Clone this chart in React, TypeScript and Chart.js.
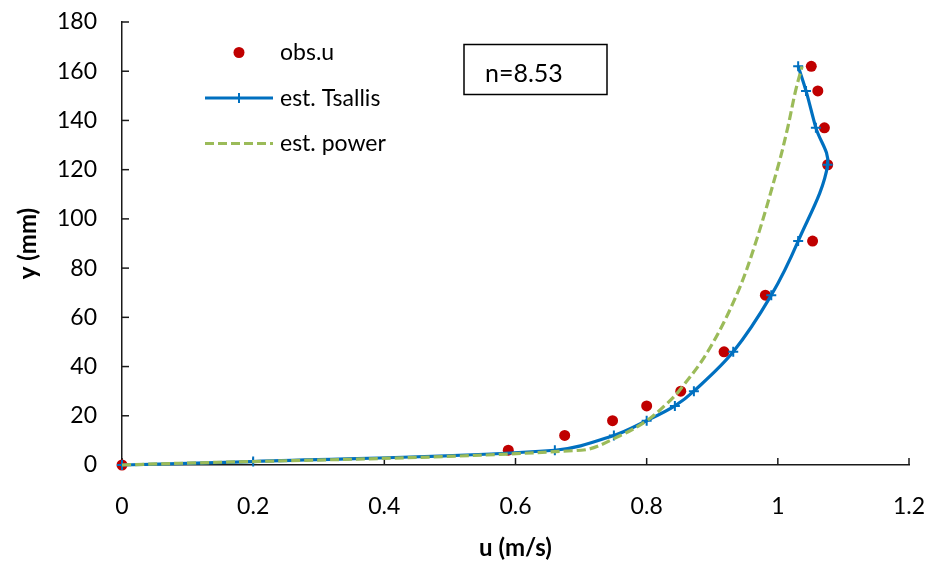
import React, { useEffect, useRef } from 'react';
import { Chart, registerables } from 'chart.js';

Chart.register(...registerables);

// Observed velocity profile
const obsY = [0, 6, 12, 18, 24, 30, 46, 69, 91, 122, 137, 152, 162];
const obsU = [0, 0.589, 0.675, 0.748, 0.8, 0.852, 0.918, 0.981, 1.053, 1.076, 1.071, 1.061, 1.051];

// Tsallis estimate
const tsallisY = [0, 1.4, 6, 12, 18, 24, 30, 46, 69, 91, 122, 137, 152, 162];
const tsallisU = [0, 0.2, 0.66, 0.75, 0.8, 0.843, 0.872, 0.932, 0.99, 1.031, 1.076, 1.058, 1.043, 1.031];

// Power-law estimate
const powerY = [0, 6, 12, 18, 24, 30, 46, 69, 91, 122, 137, 152, 162];
const powerU = [0, 0.7, 0.76, 0.8, 0.827, 0.849, 0.893, 0.937, 0.967, 1.001, 1.015, 1.027, 1.037];

const xTickVals = [0, 0.2, 0.4, 0.6, 0.8, 1, 1.2];
const xTickLabels = ['0', '0.2', '0.4', '0.6', '0.8', '1', '1.2'];
const yTickVals = [0, 20, 40, 60, 80, 100, 120, 140, 160, 180];
const yTickLabels = ['0', '20', '40', '60', '80', '100', '120', '140', '160', '180'];

const legendLabels = ['obs.u', 'est. Tsallis', 'est. power'];
const annotationText = 'n=8.53';
const xTitle = 'u (m/s)';
const yTitle = 'y (mm)';

const RED = '#C00000';
const BLUE = '#0070C0';
const GREEN = '#9BBB59';
const AXIS = '#1a1a1a';
const FONT = 'Lato, "Open Sans", sans-serif';
const DASH = [9, 4];

const toPts = (xs: number[], ys: number[]) => xs.map((v, i) => ({ x: v, y: ys[i] }));

const decorPlugin = {
  id: 'decor',
  beforeDatasetsDraw(chart: any) {
    const { ctx, chartArea, scales } = chart;
    const { left, bottom } = chartArea;
    ctx.save();
    ctx.strokeStyle = AXIS;
    ctx.lineWidth = 1.5;
    xTickVals.forEach((v) => {
      const px = scales.x.getPixelForValue(v);
      ctx.beginPath();
      ctx.moveTo(px, bottom);
      ctx.lineTo(px, bottom - 7);
      ctx.stroke();
    });
    yTickVals.forEach((v) => {
      const py = scales.y.getPixelForValue(v);
      ctx.beginPath();
      ctx.moveTo(left, py);
      ctx.lineTo(left + 7, py);
      ctx.stroke();
    });
    ctx.restore();
  },
  afterDraw(chart: any) {
    const { ctx, chartArea } = chart;
    const L = chartArea.left;
    const T = chartArea.top;
    ctx.save();
    ctx.font = `23px ${FONT}`;
    ctx.fillStyle = '#000';
    ctx.textBaseline = 'alphabetic';
    ctx.textAlign = 'left';
    const lx0 = L + 83;
    const lx1 = L + 151;
    const lmid = (lx0 + lx1) / 2;
    const tx = L + 158;
    // obs.u
    const y1 = T + 30.5;
    ctx.fillStyle = RED;
    ctx.beginPath();
    ctx.arc(lmid, y1, 5.5, 0, Math.PI * 2);
    ctx.fill();
    ctx.fillStyle = '#000';
    ctx.fillText(legendLabels[0], tx, y1 + 7.5);
    // Tsallis
    const y2 = T + 76;
    ctx.strokeStyle = BLUE;
    ctx.lineWidth = 3;
    ctx.beginPath();
    ctx.moveTo(lx0, y2);
    ctx.lineTo(lx1, y2);
    ctx.stroke();
    ctx.lineWidth = 2;
    ctx.beginPath();
    ctx.moveTo(lmid, y2 - 5);
    ctx.lineTo(lmid, y2 + 5);
    ctx.stroke();
    ctx.fillText(legendLabels[1], tx, y2 + 7.5);
    // power
    const y3 = T + 121.5;
    ctx.strokeStyle = GREEN;
    ctx.lineWidth = 3.2;
    ctx.setLineDash(DASH);
    ctx.beginPath();
    ctx.moveTo(lx0, y3);
    ctx.lineTo(lx1, y3);
    ctx.stroke();
    ctx.setLineDash([]);
    ctx.fillText(legendLabels[2], tx, y3 + 7.5);
    // annotation box
    const bx = L + 342;
    const by = T + 22.5;
    ctx.strokeStyle = '#000';
    ctx.lineWidth = 1.5;
    ctx.strokeRect(bx, by, 143, 50);
    ctx.font = `25px ${FONT}`;
    ctx.fillText(annotationText, bx + 21, by + 37.5);
    ctx.restore();
  },
};

export default function App() {
  const ref = useRef<HTMLCanvasElement>(null);
  useEffect(() => {
    document.body.style.margin = '0';
    const canvas = ref.current;
    if (!canvas) return;
    const chart = new Chart(canvas, {
      type: 'scatter',
      data: {
        datasets: [
          {
            label: legendLabels[0],
            data: toPts(obsU, obsY),
            showLine: false,
            pointStyle: 'circle',
            pointRadius: 5.5,
            pointBackgroundColor: RED,
            pointBorderColor: RED,
            pointBorderWidth: 0,
            order: 3,
            clip: false,
          },
          {
            label: legendLabels[1],
            data: toPts(tsallisU, tsallisY),
            showLine: true,
            borderColor: BLUE,
            borderWidth: 3.2,
            tension: 0.35,
            pointStyle: 'cross',
            pointRadius: 5,
            pointBorderColor: BLUE,
            pointBorderWidth: 2,
            pointBackgroundColor: BLUE,
            order: 2,
            clip: false,
          },
          {
            label: legendLabels[2],
            data: toPts(powerU, powerY),
            showLine: true,
            borderColor: GREEN,
            borderWidth: 3.2,
            borderDash: DASH,
            tension: 0.35,
            pointRadius: 0,
            order: 1,
            clip: false,
          },
        ],
      },
      options: {
        responsive: false,
        animation: false,
        devicePixelRatio: 1,
        layout: { padding: { left: 0, right: 21, top: 22, bottom: 0 } },
        plugins: {
          legend: { display: false },
          tooltip: { enabled: false },
        },
        scales: {
          x: {
            type: 'linear',
            min: 0,
            max: 1.2,
            afterBuildTicks: (s: any) => {
              s.ticks = xTickVals.map((v) => ({ value: v }));
            },
            afterFit: (s: any) => {
              s.height = 96;
              s.paddingLeft = 0;
              s.paddingRight = 0;
            },
            grid: { display: true, drawOnChartArea: false, drawTicks: false },
            border: { display: true, color: AXIS, width: 1.5 },
            ticks: {
              padding: 28,
              color: '#000',
              font: { family: FONT, size: 23 },
              maxRotation: 0,
              callback: (_v: any, i: number) => xTickLabels[i],
            },
            title: {
              display: true,
              text: xTitle,
              color: '#000',
              font: { family: FONT, size: 24, weight: 'bold', lineHeight: 1 },
              padding: { top: 0, bottom: 1 },
            },
          },
          y: {
            type: 'linear',
            min: 0,
            max: 180,
            afterBuildTicks: (s: any) => {
              s.ticks = yTickVals.map((v) => ({ value: v }));
            },
            afterFit: (s: any) => {
              s.width = 122;
              s.paddingTop = 0;
              s.paddingBottom = 0;
            },
            grid: { display: true, drawOnChartArea: false, drawTicks: false },
            border: { display: true, color: AXIS, width: 1.5 },
            ticks: {
              padding: 25,
              color: '#000',
              font: { family: FONT, size: 23 },
              callback: (_v: any, i: number) => yTickLabels[i],
            },
            title: {
              display: true,
              text: yTitle,
              color: '#000',
              font: { family: FONT, size: 24, weight: 'bold', lineHeight: 1 },
              padding: { top: 16, bottom: 0 },
            },
          },
        },
      },
      plugins: [decorPlugin],
    } as any);
    return () => chart.destroy();
  }, []);
  return (
    <div style={{ width: 930, height: 561, background: '#fff' }}>
      <canvas ref={ref} width={930} height={561} />
    </div>
  );
}
